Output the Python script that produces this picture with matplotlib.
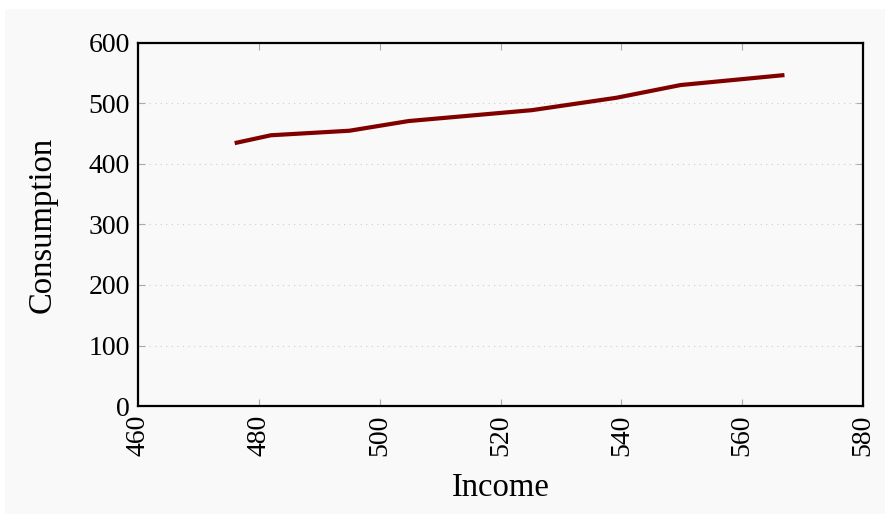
import matplotlib
matplotlib.use("Agg")
import matplotlib.pyplot as plt
from matplotlib.patches import Rectangle

income = [476.0, 482.0, 495.0, 504.8, 525.2, 539.2, 549.8, 567.0]
consumption = [434.5, 447.5, 455.0, 471.0, 489.0, 509.5, 530.5, 547.0]
xticks = [460, 480, 500, 520, 540, 560, 580]
yticks = [0, 100, 200, 300, 400, 500, 600]

plt.rcParams['font.family'] = ['Liberation Serif', 'DejaVu Serif']

W, H = 885, 514
fig = plt.figure(figsize=(W / 100, H / 100), dpi=100, facecolor='white')
fig.patches.append(Rectangle((5 / W, 0), 1 - 5 / W, 1 - 9 / H, transform=fig.transFigure,
                             facecolor='#f9f9f9', edgecolor='none', zorder=-10))

ax = fig.add_axes([138 / W, 1 - 406 / H, (863 - 138) / W, (406 - 43) / H])
ax.set_facecolor('#f9f9f9')
ax.plot(income, consumption, color='#800000', linewidth=3.0, solid_capstyle='butt', zorder=3)

ax.set_xlim(460, 580)
ax.set_ylim(0, 600)
ax.set_xticks(xticks)
ax.set_yticks(yticks)
ax.set_xticklabels([str(v) for v in xticks], rotation=90)
ax.tick_params(axis='both', direction='in', length=5, width=0.8, color='#aaaaaa',
               labelsize=20, top=True, right=True, pad=6)
ax.grid(axis='y', linestyle=(0, (1, 4)), color='#cccccc', linewidth=0.8)
for s in ax.spines.values():
    s.set_linewidth(1.6)
    s.set_color('black')
    s.set_zorder(4)

ax.set_xlabel('Income', fontsize=23.5, labelpad=12)
ax.set_ylabel('Consumption', fontsize=23.5, labelpad=22)

fig.savefig('out.png', dpi=100, facecolor=fig.get_facecolor())
